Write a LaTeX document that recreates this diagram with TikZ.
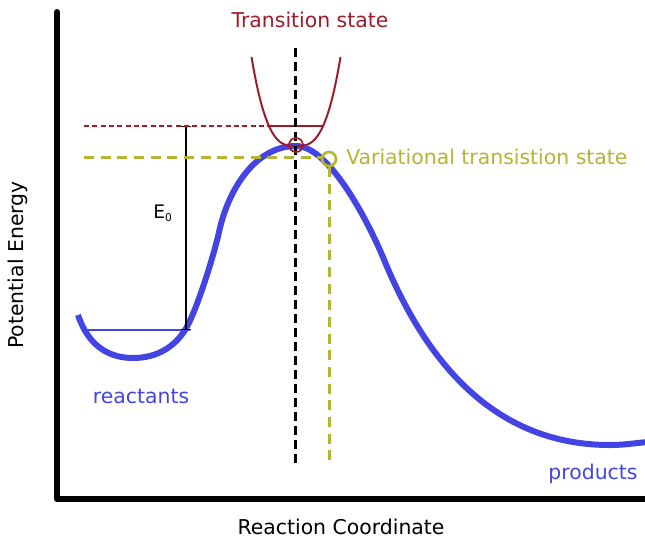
\documentclass[tikz,border=0pt]{standalone}
\usepackage{fontspec}
\setmainfont{DejaVu Sans}
\definecolor{curveblue}{RGB}{68,68,228}
\definecolor{tsred}{RGB}{158,28,42}
\definecolor{vtsolive}{RGB}{181,181,52}
\tikzset{
  lbl/.style={font=\fontsize{15.3}{18}\selectfont, inner sep=0pt},
  axis/.style={line width=4.5pt, line cap=round, line join=round},
}
\begin{document}
\begin{tikzpicture}[x=0.75pt, y=-0.75pt]
  \useasboundingbox (0,0) rectangle (645,540);
  % axes
  \draw[axis] (57,12) -- (57,499) -- (648,499);
  \node[lbl, rotate=90] (ylab) at (18,265) {Potential Energy};
  \node[lbl] (xlab) at (341,527) {Reaction Coordinate};
  % potential energy curve
  \draw[curveblue, line width=4.5pt]
    (78,315) .. controls (88,345) and (108,358) .. (133,358)
    .. controls (158,358) and (175,346) .. (185,330)
    .. controls (196,313) and (214,255) .. (219,232)
    .. controls (228,190) and (255,146) .. (296,146)
    .. controls (330,146) and (370,225) .. (385,262)
    .. controls (430,370) and (500,445) .. (610,445)
    .. controls (625,445) and (635,443) .. (648,442);
  \draw[curveblue, line width=1.5pt] (84,330) -- (190,330);
  % barrier height
  \draw[line width=1pt, |-|] (186,126) -- (186,330);
  \node[lbl, font=\fontsize{14}{16}\selectfont] (ezero) at (163,213) {E\textsubscript{\fontsize{8}{9}\selectfont 0}};
  % transition state
  \draw[tsred, line width=1.2pt, dash pattern=on 3.75pt off 2.5pt] (84,126) -- (269,126);
  \draw[tsred, line width=1.2pt] (269,126) -- (323,126);
  \draw[tsred, line width=1.5pt, domain=-44.5:44.5, samples=61]
    plot ({296+\x}, {146-89*pow(abs(\x/44.5),3)});
  \draw[line width=2.25pt, dash pattern=on 6.75pt off 3.75pt] (295,48) -- (295,466);
  \draw[tsred, line width=1.3pt] (296,145) circle (7);
  \node[lbl, text=tsred] (tslab) at (310,20) {Transition state};
  % variational transition state
  \draw[vtsolive, line width=2.25pt, dash pattern=on 7.5pt off 5pt] (84,157) -- (321,157);
  \draw[vtsolive, line width=2.25pt, dash pattern=on 7.5pt off 5pt] (329,167) -- (329,465);
  \draw[vtsolive, line width=2pt] (329,159) circle (7);
  \node[lbl, text=vtsolive, anchor=west] (vtslab) at (346,157) {Variational transistion state};
  % labels
  \node[lbl, text=curveblue] (reac) at (141,396) {reactants};
  \node[lbl, text=curveblue] (prod) at (593,474) {products};
\end{tikzpicture}
\end{document}
